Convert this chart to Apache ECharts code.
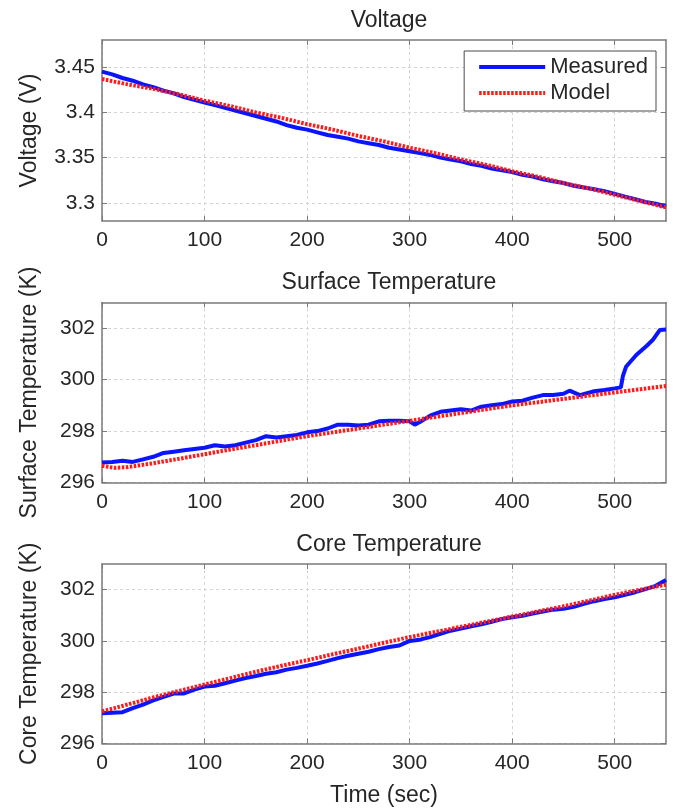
<!DOCTYPE html>
<html>
<head>
<meta charset="utf-8">
<script src="https://cdn.jsdelivr.net/npm/echarts@6/dist/echarts.min.js"></script>
<style>
  html, body { margin: 0; padding: 0; background: #fff; }
  #chart { width: 681px; height: 810px; }
</style>
</head>
<body>
<div id="chart"></div>
<script>
// ---------- data ----------
var titles = ['Voltage', 'Surface Temperature', 'Core Temperature'];
var yNames = ['Voltage (V)', 'Surface Temperature (K)', 'Core Temperature (K)'];
var xName = 'Time (sec)';
var xTicks = [0, 100, 200, 300, 400, 500];
var voltTicks = [3.3, 3.35, 3.4, 3.45];
var tempTicks = [296, 298, 300, 302];

var voltTime = [0,10,20,30,40,50,60,70,80,90,100,110,120,130,140,150,160,170,180,190,200,210,220,230,240,250,260,270,280,290,300,310,320,330,340,350,360,370,380,390,400,410,420,430,440,450,460,470,480,490,500,510,520,530,540,550];
var voltMeasured = [3.445,3.442,3.438,3.435,3.431,3.428,3.424,3.421,3.417,3.414,3.411,3.408,3.405,3.402,3.399,3.396,3.393,3.390,3.386,3.383,3.381,3.378,3.375,3.373,3.371,3.368,3.366,3.364,3.361,3.359,3.357,3.355,3.353,3.350,3.348,3.346,3.343,3.341,3.338,3.336,3.334,3.331,3.329,3.326,3.324,3.322,3.319,3.317,3.315,3.313,3.310,3.307,3.304,3.301,3.299,3.296];

var surfTime = [0,10,20,30,40,50,60,70,80,90,100,110,120,130,140,150,160,170,180,190,200,210,220,230,240,250,260,270,280,290,300,305,310,320,330,340,350,360,370,380,390,400,410,420,430,440,450,456,466,480,490,500,506,508,511,521,531,537,544,550];
var surfMeasured = [296.78,296.80,296.85,296.80,296.90,297.00,297.15,297.20,297.25,297.30,297.35,297.45,297.40,297.45,297.55,297.65,297.80,297.75,297.80,297.85,297.95,298.00,298.10,298.25,298.25,298.22,298.25,298.38,298.40,298.40,298.38,298.25,298.35,298.60,298.75,298.80,298.85,298.80,298.95,299.00,299.05,299.15,299.18,299.30,299.40,299.40,299.45,299.57,299.40,299.55,299.60,299.66,299.70,300.15,300.50,300.96,301.31,301.54,301.93,301.95];

var coreTime = [0,10,20,30,40,50,60,70,80,90,100,110,120,130,140,150,160,170,180,190,200,210,220,230,240,250,260,270,280,290,300,310,320,330,340,350,360,370,380,390,400,410,420,430,440,450,460,470,480,490,500,510,520,530,540,550];
var coreMeasured = [297.18,297.20,297.22,297.38,297.52,297.68,297.82,297.95,297.95,298.10,298.22,298.25,298.35,298.45,298.55,298.63,298.72,298.78,298.88,298.95,299.03,299.12,299.22,299.33,299.42,299.50,299.58,299.68,299.76,299.82,300.00,300.05,300.15,300.28,300.40,300.48,300.57,300.65,300.75,300.85,300.92,300.98,301.07,301.15,301.22,301.25,301.33,301.45,301.55,301.63,301.70,301.80,301.90,302.02,302.15,302.38];

var modelTime = [0,12,25,50,75,100,125,150,175,200,225,250,275,300,325,350,375,400,425,450,475,500,525,550];
var voltModel = [3.437,3.434,3.431,3.426,3.420,3.413,3.407,3.400,3.394,3.387,3.381,3.374,3.368,3.361,3.355,3.348,3.342,3.335,3.329,3.322,3.316,3.309,3.302,3.295];
var surfModel = [296.65,296.57,296.60,296.75,296.92,297.10,297.28,297.45,297.63,297.80,297.95,298.10,298.25,298.40,298.55,298.70,298.85,299.00,299.12,299.25,299.38,299.50,299.63,299.75];
var coreModel = [297.25,297.38,297.52,297.80,298.05,298.30,298.55,298.80,299.03,299.25,299.48,299.70,299.93,300.15,300.35,300.55,300.75,300.95,301.15,301.35,301.57,301.80,302.00,302.20];

// ---------- styling ----------
var FONT = 'Liberation Sans';
var TXT = '#262626';
var AX = '#7a7a7a';
var GRIDC = '#d4d4d4';
var BLUE = '#0a14ff';
var RED = '#ff1a1a';

function pairs(t, v) { return t.map(function (x, i) { return [x, v[i]]; }); }

var grids = [
  { left: 102, right: 15, top: 40, height: 181 },
  { left: 102, right: 15, top: 302.5, height: 180 },
  { left: 102, right: 15, top: 564, height: 179.5 }
];
var yRanges = [
  { min: 3.28, max: 3.48, ticks: voltTicks },
  { min: 296, max: 303, ticks: tempTicks },
  { min: 296, max: 303, ticks: tempTicks }
];

var xAxes = [], yAxes = [], series = [], titleArr = [];
var titleTops = [4, 266, 528];

for (var g = 0; g < 3; g++) {
  titleArr.push({
    text: titles[g], left: 384, top: titleTops[g], textAlign: 'center',
    textStyle: { fontFamily: FONT, fontSize: 23, fontWeight: 'normal', color: TXT }
  });
  xAxes.push({
    type: 'value', gridIndex: g, min: 0, max: 550, position: 'bottom',
    axisLine: { show: true, onZero: false, lineStyle: { color: AX, width: 1.5 } },
    axisTick: { show: true, inside: true, length: 5, lineStyle: { color: AX, width: 1 }, customValues: xTicks },
    axisLabel: { show: true, margin: 9, fontFamily: FONT, fontSize: 21, color: TXT, customValues: xTicks },
    splitLine: { show: true, lineStyle: { color: GRIDC, width: 1, type: [3, 3] } },
    name: g === 2 ? xName : '', nameLocation: 'middle', nameGap: 41,
    nameTextStyle: { fontFamily: FONT, fontSize: 23, color: TXT }
  });
  xAxes.push({
    type: 'value', gridIndex: g, min: 0, max: 550, position: 'top',
    axisLine: { show: true, onZero: false, lineStyle: { color: AX, width: 1.5 } },
    axisTick: { show: true, inside: true, length: 5, lineStyle: { color: AX, width: 1 }, customValues: xTicks },
    axisLabel: { show: false },
    splitLine: { show: false }
  });
  var yr = yRanges[g];
  yAxes.push({
    type: 'value', gridIndex: g, min: yr.min, max: yr.max, position: 'left',
    axisLine: { show: true, onZero: false, lineStyle: { color: AX, width: 1.5 } },
    axisTick: { show: true, inside: true, length: 5, lineStyle: { color: AX, width: 1 }, customValues: yr.ticks },
    axisLabel: { show: true, margin: 7, fontFamily: FONT, fontSize: 21, color: TXT, customValues: yr.ticks },
    splitLine: { show: true, lineStyle: { color: GRIDC, width: 1, type: [3, 3] } },
    name: yNames[g], nameLocation: 'middle', nameGap: 61, nameRotate: 90,
    nameTextStyle: { fontFamily: FONT, fontSize: 23, color: TXT }
  });
  yAxes.push({
    type: 'value', gridIndex: g, min: yr.min, max: yr.max, position: 'right',
    axisLine: { show: true, onZero: false, lineStyle: { color: AX, width: 1.5 } },
    axisTick: { show: true, inside: true, length: 5, lineStyle: { color: AX, width: 1 }, customValues: yr.ticks },
    axisLabel: { show: false },
    splitLine: { show: false }
  });
}

var measuredSets = [pairs(voltTime, voltMeasured), pairs(surfTime, surfMeasured), pairs(coreTime, coreMeasured)];
var modelSets = [pairs(modelTime, voltModel), pairs(modelTime, surfModel), pairs(modelTime, coreModel)];

for (var k = 0; k < 3; k++) {
  series.push({
    name: 'Measured', type: 'line', xAxisIndex: 2 * k, yAxisIndex: 2 * k,
    data: measuredSets[k], symbol: 'none', showSymbol: false,
    lineStyle: { color: BLUE, width: 4 }, itemStyle: { color: BLUE },
    emphasis: { disabled: true }, z: 2
  });
  series.push({
    name: 'Model', type: 'line', xAxisIndex: 2 * k, yAxisIndex: 2 * k,
    data: modelSets[k], symbol: 'none', showSymbol: false,
    lineStyle: { color: RED, width: 4, type: [2.5, 1.5], cap: 'butt' }, itemStyle: { color: RED },
    emphasis: { disabled: true }, z: 3
  });
}

var chart = echarts.init(document.getElementById('chart'), null, { renderer: 'canvas' });
chart.setOption({
  animation: false,
  backgroundColor: '#ffffff',
  title: titleArr,
  grid: grids,
  xAxis: xAxes,
  yAxis: yAxes,
  legend: {
    data: [
      { name: 'Measured', lineStyle: { color: BLUE, width: 4, type: 'solid' } },
      { name: 'Model', lineStyle: { color: RED, width: 4, type: [2.5, 1.5], cap: 'butt' } }
    ],
    orient: 'vertical', right: 25, top: 51,
    padding: [4, 8, 6, 13], itemWidth: 66, itemHeight: 14, itemGap: 2,
    itemStyle: { opacity: 0, borderWidth: 0 },
    borderColor: '#4a4a4a', borderWidth: 1, backgroundColor: '#ffffff',
    textStyle: { fontFamily: FONT, fontSize: 22, color: TXT, lineHeight: 24 },
    selectedMode: false
  },
  series: series
});
</script>
</body>
</html>
